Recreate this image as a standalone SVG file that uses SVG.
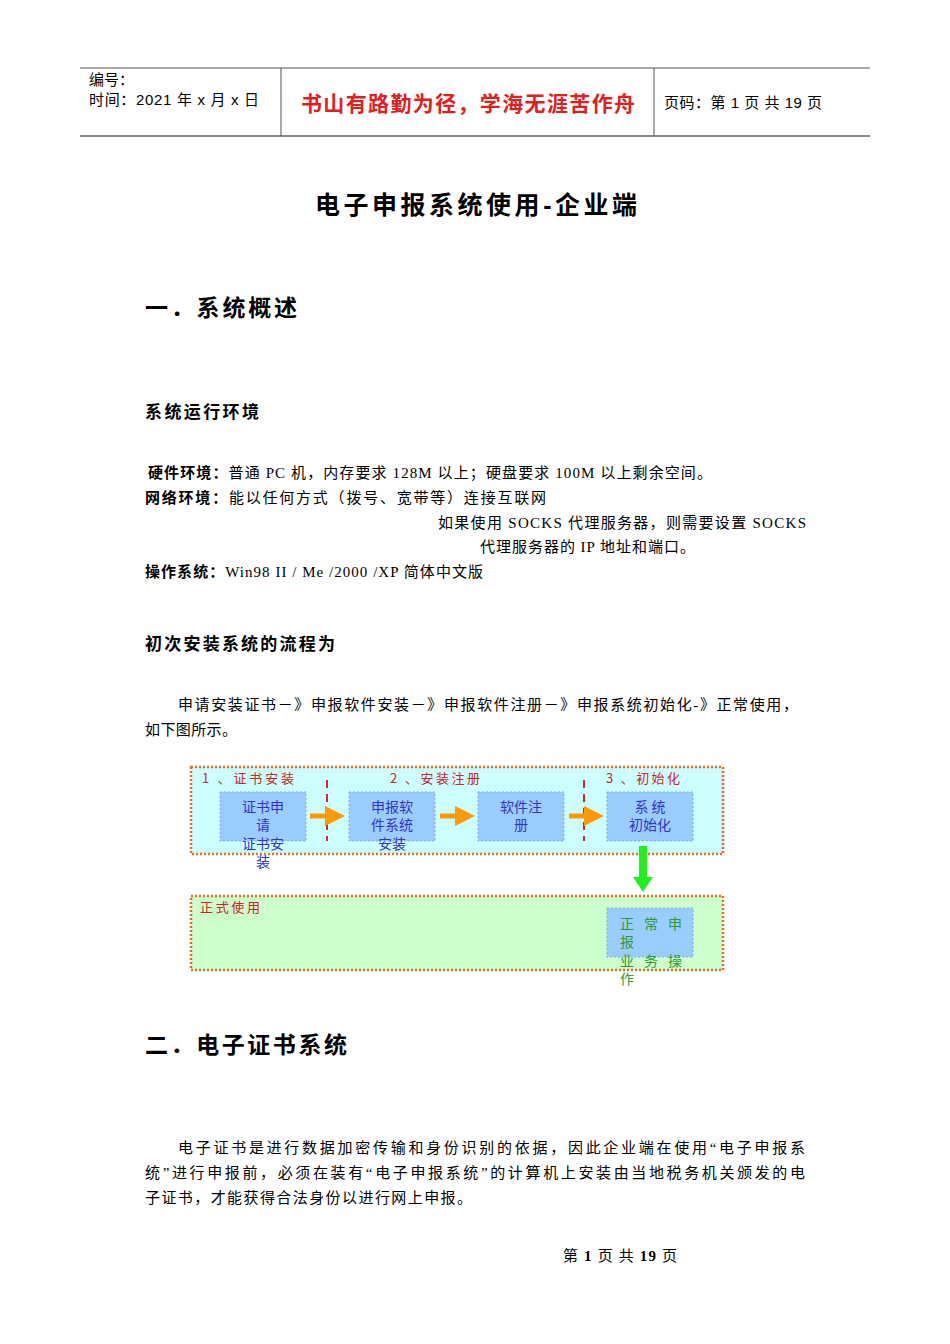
<svg xmlns="http://www.w3.org/2000/svg" width="950" height="1344" viewBox="0 0 950 1344">
<style>
.s{font-family:"Liberation Serif","Noto Sans CJK SC",serif;font-size:15px;fill:#000}
.h{font-family:"Liberation Sans","Noto Sans CJK SC",sans-serif;fill:#000}
.b{fill:#99ccff;stroke:#88aadd;stroke-width:1;stroke-dasharray:2,2}
.bt{font-family:"Noto Sans CJK SC",sans-serif;font-size:14px;fill:#3333cc;text-anchor:middle}
.lab{font-family:"Noto Sans CJK SC",serif;font-size:13px;fill:#cc2222}
.fr{stroke:#e07020;stroke-width:2.5;stroke-dasharray:2,2}
</style>
<defs>
<marker id="oa" markerWidth="4" markerHeight="4" refX="2" refY="2" orient="auto"><path d="M0,0L4,2L0,4z" fill="#ff9900"/></marker>
</defs>
<rect width="950" height="1344" fill="#fff"/>
<g id="header">
<line x1="80" y1="68" x2="870" y2="68" stroke="#555"/>
<line x1="80" y1="136" x2="870" y2="136" stroke="#888" stroke-width="2"/>
<line x1="281" y1="68" x2="281" y2="136" stroke="#555"/>
<line x1="654" y1="68" x2="654" y2="136" stroke="#555"/>
<text class="h" x="89" y="85" font-size="15">编号：</text>
<text class="h" x="89" y="105" font-size="15" textLength="170">时间：2021 年 x 月 x 日</text>
<text class="h" x="301" y="111" font-size="21" style="fill:#e02020" font-weight="bold" textLength="334">书山有路勤为径，学海无涯苦作舟</text>
<text class="h" x="664" y="108" font-size="15" textLength="158">页码：第 1 页  共 19 页</text>
</g>
<text class="h" x="315" y="214" font-size="25" font-weight="bold" textLength="322">电子申报系统使用-企业端</text>
<text class="h" x="145" y="316" font-size="23" font-weight="bold" textLength="152">一．系统概述</text>
<text class="h" x="145" y="418" font-size="17" font-weight="bold" textLength="114">系统运行环境</text>
<text class="s" x="148" y="478" textLength="564"><tspan font-weight="bold">硬件环境：</tspan>普通 PC 机，内存要求 128M 以上；硬盘要求 100M 以上剩余空间。</text>
<text class="s" x="145" y="503" textLength="401"><tspan font-weight="bold">网络环境：</tspan>能以任何方式（拨号、宽带等）连接互联网</text>
<text class="s" x="438" y="528" textLength="368">如果使用 SOCKS 代理服务器，则需要设置 SOCKS</text>
<text class="s" x="480" y="552" textLength="215">代理服务器的 IP 地址和端口。</text>
<text class="s" x="145" y="577" textLength="338"><tspan font-weight="bold">操作系统：</tspan>Win98 II / Me /2000 /XP 简体中文版</text>
<text class="h" x="145" y="650" font-size="17" font-weight="bold" textLength="190">初次安装系统的流程为</text>
<text class="s" x="178" y="710" textLength="620">申请安装证书－》申报软件安装－》申报软件注册－》申报系统初始化-》正常使用，</text>
<text class="s" x="145" y="735" textLength="92">如下图所示。</text>
<g id="stage1"><rect x="191" y="767" width="532" height="87" fill="#ccffff" class="fr"/>
<text class="lab" x="202" y="783" textLength="92">1 、证书安装</text><text class="lab" x="390" y="783" textLength="90">2 、安装注册</text><text class="lab" x="606" y="783" textLength="74">3 、初始化</text></g>
<g id="stage2"><rect x="191" y="896" width="532" height="74" fill="#ccffcc" class="fr"/>
<text class="lab" x="200" y="912" textLength="60">正式使用</text></g>
<g id="n1"><rect class="b" x="220" y="792" width="86" height="49"/><text class="bt" x="263" y="812">证书申</text><text class="bt" x="263" y="830">请</text><text class="bt" x="263" y="849">证书安</text><text class="bt" x="263" y="867">装</text></g>
<g id="n2"><rect class="b" x="349" y="792" width="86" height="49"/><text class="bt" x="392" y="812">申报软</text><text class="bt" x="392" y="830">件系统</text><text class="bt" x="392" y="849">安装</text></g>
<g id="n3"><rect class="b" x="478" y="792" width="86" height="49"/><text class="bt" x="521" y="812">软件注</text><text class="bt" x="521" y="830">册</text></g>
<g id="n4"><rect class="b" x="607" y="792" width="86" height="49"/><text class="bt" x="650" y="812">系 统</text><text class="bt" x="650" y="830">初始化</text></g>
<g id="n5"><rect class="b" x="607" y="908" width="86" height="49"/>
<text class="bt" style="fill:#339933;text-anchor:start" x="620" y="929" letter-spacing="10">正常申</text><text class="bt" style="fill:#339933;text-anchor:start" x="620" y="947">报</text><text class="bt" style="fill:#339933;text-anchor:start" x="620" y="966" letter-spacing="10">业务操</text><text class="bt" style="fill:#339933;text-anchor:start" x="620" y="984">作</text></g>
<g id="connectors">
<line x1="327" y1="780" x2="327" y2="841" stroke="#dd2222" stroke-width="2" stroke-dasharray="8,6"/>
<line x1="584" y1="780" x2="584" y2="841" stroke="#dd2222" stroke-width="2" stroke-dasharray="8,6"/>
<line x1="310" y1="816" x2="335" y2="816" stroke="#ff9900" stroke-width="5" marker-end="url(#oa)"/>
<line x1="440" y1="816" x2="465" y2="816" stroke="#ff9900" stroke-width="5" marker-end="url(#oa)"/>
<line x1="569" y1="816" x2="594" y2="816" stroke="#ff9900" stroke-width="5" marker-end="url(#oa)"/>
<rect x="639" y="846" width="8" height="32" fill="#22ee22"/><path d="M633,877L653,877L643,892z" fill="#22ee22"/>
</g>
<text class="h" x="145" y="1053" font-size="23" font-weight="bold" textLength="202">二．电子证书系统</text>
<text class="s" x="178" y="1153" textLength="627">电子证书是进行数据加密传输和身份识别的依据，因此企业端在使用“电子申报系</text>
<text class="s" x="145" y="1178" textLength="660">统”进行申报前，必须在装有“电子申报系统”的计算机上安装由当地税务机关颁发的电</text>
<text class="s" x="145" y="1203" textLength="327">子证书，才能获得合法身份以进行网上申报。</text>
<text class="s" x="563" y="1261" font-size="13" textLength="114">第 <tspan font-weight="bold">1</tspan> 页 共 <tspan font-weight="bold">19</tspan> 页</text>
</svg>
